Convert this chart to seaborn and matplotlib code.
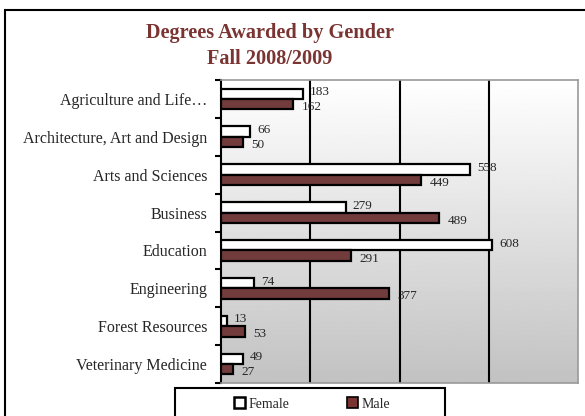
import numpy as np
import pandas as pd
import matplotlib
matplotlib.use("Agg")
import matplotlib.pyplot as plt
import matplotlib.patches as mpatches
import seaborn as sns

# Data
colleges = ["Agriculture and Life\u2026", "Architecture, Art and Design", "Arts and Sciences",
            "Business", "Education", "Engineering", "Forest Resources", "Veterinary Medicine"]
female = [183, 66, 558, 279, 608, 74, 13, 49]
male = [162, 50, 449, 489, 291, 377, 53, 27]

df = pd.DataFrame({
    "College": colleges * 2,
    "Degrees": female + male,
    "Gender": ["Female"] * len(colleges) + ["Male"] * len(colleges),
})

sns.set_style("white")
plt.rcParams["font.family"] = ["Liberation Serif", "DejaVu Serif"]

fig = plt.figure(figsize=(5.85, 4.16), dpi=100)
ax = fig.add_axes([221 / 585, 1 - 383 / 416, 357 / 585, 303 / 416])

# gradient background
grad = np.linspace(1.0, 0.76, 256).reshape(-1, 1)
ax.imshow(grad, cmap="gray", vmin=0, vmax=1, aspect="auto",
          extent=[0, 800, 7.5, -0.5], zorder=0)

sns.barplot(data=df, y="College", x="Degrees", hue="Gender", orient="h",
            palette={"Female": "white", "Male": "#7a3432"}, width=0.55,
            edgecolor="black", linewidth=1.6, ax=ax, zorder=3, legend=False)

ax.set_xlim(0, 800)
ax.set_ylim(7.5, -0.5)
for gx in [200, 400, 600]:
    ax.axvline(gx, color="black", lw=1.5, zorder=1)

# value labels
for i, (f, m) in enumerate(zip(female, male)):
    ax.annotate(str(f), (f, i - 0.14), xytext=(5, 1), textcoords="offset points",
                va="center", ha="left", fontsize=9.5, zorder=5)
    ax.annotate(str(m), (m, i + 0.14), xytext=(6, -2), textcoords="offset points",
                va="center", ha="left", fontsize=9.5, zorder=5)

ax.set_xlabel("")
ax.set_ylabel("")
ax.set_xticks([])
ax.set_yticks(range(len(colleges)))
ax.set_yticklabels(colleges, fontsize=11.5)
ax.tick_params(axis="y", which="major", left=False, length=0, pad=10)
ax.set_yticks(np.arange(-0.5, 8, 1), minor=True)
ax.tick_params(axis="y", which="minor", left=True, length=4, width=1.5,
               color="black", direction="out")
ax.grid(False)
for s in ["top", "right", "bottom"]:
    ax.spines[s].set_color("#999999")
    ax.spines[s].set_linewidth(1.2)
ax.spines["left"].set_color("black")
ax.spines["left"].set_linewidth(1.5)

# title
fig.text(270 / 585, 1 - 46 / 416, "Degrees Awarded by Gender\nFall 2008/2009",
         ha="center", va="center", fontsize=14.6, fontweight="bold", color="#7a3432",
         linespacing=1.35)

# outer frame
fig.patches.append(mpatches.Rectangle((5 / 585, -0.1), 1.2, 1 - 10 / 416 + 0.1,
                                      transform=fig.transFigure, fill=False,
                                      edgecolor="black", lw=1.5))

# legend box
fig.patches.append(mpatches.Rectangle((175 / 585, -0.1), 270 / 585, 0.1 + 1 - 388 / 416,
                                      transform=fig.transFigure, fill=False,
                                      edgecolor="black", lw=1.5))
handles = [mpatches.Patch(facecolor="white", edgecolor="black", lw=1.8, label="Female"),
           mpatches.Patch(facecolor="#7a3432", edgecolor="black", lw=1.2, label="Male")]
fig.legend(handles=handles, loc="center", bbox_to_anchor=(312 / 585, 1 - 404 / 416),
           ncol=2, frameon=False, fontsize=10, handlelength=0.8, handleheight=0.8,
           handletextpad=0.2, columnspacing=4.2)

fig.savefig("out.png", dpi=100)
